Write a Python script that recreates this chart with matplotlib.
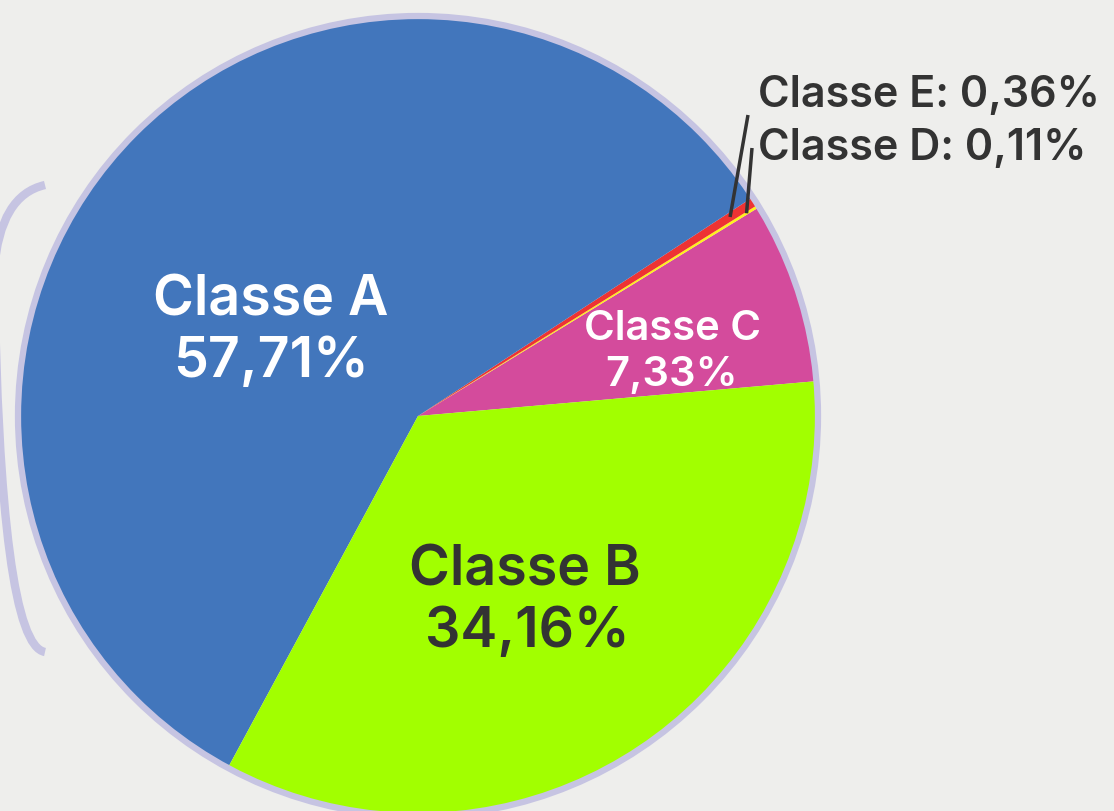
import numpy as np
import matplotlib
matplotlib.use("Agg")
import matplotlib.pyplot as plt
from matplotlib.patches import Circle, PathPatch
from matplotlib.path import Path

# dados (ordem anti-horaria a partir da direita)
classes = ["Classe C", "Classe D", "Classe E", "Classe A", "Classe B"]
valores = [7.33, 0.11, 0.36, 57.71, 34.16]
cores = ["#D44B9C", "#FFF21C", "#EE3333", "#4276BC", "#A2FF00"]

W, H = 1114, 811
fundo = "#EEEEEC"
escuro = "#333333"
lilas = "#C6C4E2"

plt.rcParams['font.family'] = ['Inter', 'DejaVu Sans']

fig = plt.figure(figsize=(W / 100, H / 100), dpi=100, facecolor=fundo)
ax = fig.add_axes([0, 0, 1, 1])
ax.set_facecolor(fundo)

cx, cy, r = 418, H - 416, 398
inicio = 5

# parentese decorativo do fundo
verts = [(45, H - 185), (0, H - 195), (-6, H - 270), (-6, H - 570),
         (0, H - 645), (45, H - 652)]
codes = [Path.MOVETO, Path.CURVE3, Path.CURVE3, Path.LINETO, Path.CURVE3, Path.CURVE3]
ax.add_patch(PathPatch(Path(verts, codes), fill=False, edgecolor=lilas, lw=6,
                       capstyle="butt", zorder=0))

fatias, _ = ax.pie(valores, colors=cores, startangle=inicio, counterclock=True,
                   center=(cx, cy), radius=r,
                   wedgeprops=dict(linewidth=0))

ax.add_patch(Circle((cx, cy), r + 2, fill=False, edgecolor=lilas, lw=4.5, zorder=5))

def fmt(v):
    return f"{v:.2f}".replace(".", ",") + "%"

kw = dict(ha="center", va="baseline", fontweight="semibold")
# rotulos internos
ax.text(271, H - 315, classes[3], fontsize=40, color="white", **kw)
ax.text(271, H - 377, fmt(valores[3]), fontsize=40, color="white", **kw)
ax.text(525, H - 585, classes[4], fontsize=40, color=escuro, **kw)
ax.text(527, H - 647, fmt(valores[4]), fontsize=40, color=escuro, **kw)
ax.text(673, H - 340, classes[0], fontsize=30, color="white", **kw)
ax.text(672, H - 386, fmt(valores[0]), fontsize=30, color="white", **kw)

# rotulos externos com linhas ate as fatias pequenas
ax.text(758, H - 107, f"{classes[2]}: {fmt(valores[2])}", ha="left", va="baseline",
        fontsize=31, color=escuro, fontweight="semibold")
ax.text(758, H - 160, f"{classes[1]}: {fmt(valores[1])}", ha="left", va="baseline",
        fontsize=31, color=escuro, fontweight="semibold")

for idx, fr, fim in [(2, 0.93, (748, H - 115)), (1, 0.97, (752, H - 148))]:
    w = fatias[idx]
    ang = np.deg2rad((w.theta1 + w.theta2) / 2)
    x0 = cx + fr * r * np.cos(ang)
    y0 = cy + fr * r * np.sin(ang)
    ax.plot([x0, fim[0]], [y0, fim[1]], color=escuro, lw=2.5, zorder=6,
            solid_capstyle="butt")

ax.set_xlim(0, W)
ax.set_ylim(0, H)
ax.set_aspect("equal")
ax.axis("off")

fig.savefig("out.png", dpi=100, facecolor=fundo)
